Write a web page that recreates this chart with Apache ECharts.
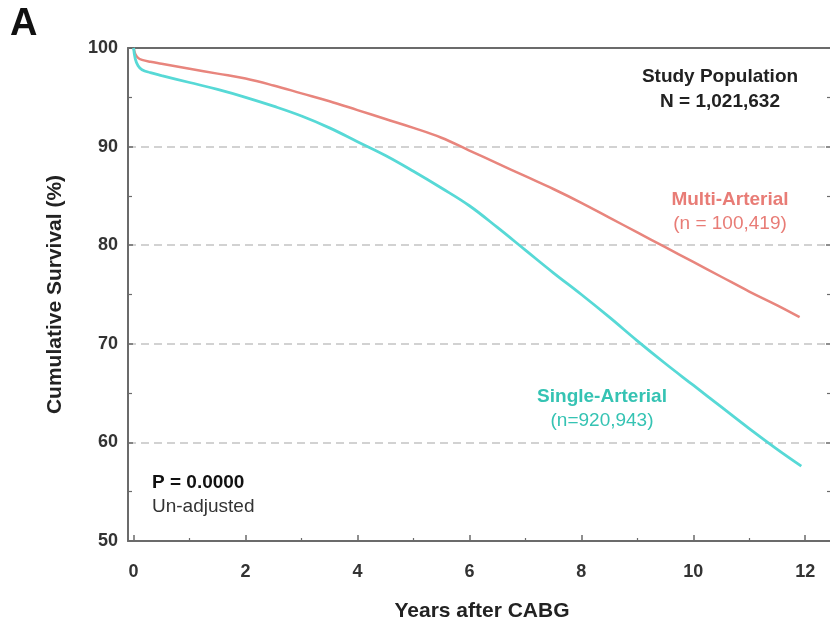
<!DOCTYPE html>
<html>
<head>
<meta charset="utf-8">
<script src="https://cdn.jsdelivr.net/npm/echarts@6/dist/echarts.min.js"></script>
<style>html,body{margin:0;padding:0;background:#fff;}#c{width:830px;height:622px;}</style>
</head>
<body>
<div id="c"></div>
<script>
const years = [0, 0.03, 0.08, 0.15, 0.3, 0.5, 1, 1.5, 2, 2.5, 3, 3.5, 4, 4.5, 5, 5.5, 6, 6.5, 7, 7.5, 8, 8.5, 9, 9.5, 10, 10.5, 11, 11.5, 11.9];
const multiArterial = [100, 99.4, 99.0, 98.8, 98.6, 98.4, 97.9, 97.4, 96.9, 96.2, 95.4, 94.6, 93.7, 92.8, 91.9, 90.9, 89.6, 88.3, 87.0, 85.7, 84.3, 82.8, 81.3, 79.8, 78.3, 76.8, 75.3, 73.9, 72.7];
const singleArterial = [100, 98.9, 98.2, 97.8, 97.5, 97.2, 96.5, 95.8, 95.0, 94.1, 93.1, 91.9, 90.5, 89.1, 87.5, 85.8, 84.0, 81.8, 79.5, 77.2, 75.0, 72.7, 70.3, 68.0, 65.8, 63.6, 61.4, 59.3, 57.6];
const xMajorTicks = [0, 2, 4, 6, 8, 10, 12];
const xMinorTicks = [1, 3, 5, 7, 9, 11];
const yTicks = [50, 60, 70, 80, 90, 100];

const FONT = "'Liberation Sans', Arial, sans-serif";
const chart = echarts.init(document.getElementById('c'), null, {renderer: 'canvas'});
const pair = (xs, ys) => xs.map((x, i) => [x, ys[i]]);
const axisColor = '#6b6b6b';

chart.setOption({
  animation: false,
  backgroundColor: '#fff',
  grid: {left: 128, right: -6, top: 48, bottom: 81, containLabel: false, outerBoundsMode: 'none'},
  xAxis: [
    {
      type: 'value', min: -0.1, max: 12.55, position: 'bottom',
      name: 'Years after CABG', nameLocation: 'middle', nameGap: 60,
      nameTextStyle: {fontFamily: FONT, fontWeight: 'bold', fontSize: 21, color: '#222'},
      axisLine: {show: true, onZero: false, lineStyle: {color: axisColor, width: 2}},
      axisTick: {show: true, inside: true, length: 6, customValues: xMajorTicks, lineStyle: {color: axisColor, width: 1.5}},
      axisLabel: {show: true, customValues: xMajorTicks, margin: 22, fontFamily: FONT, fontWeight: 'bold', fontSize: 18, color: '#333'},
      splitLine: {show: false}
    },
    {
      type: 'value', min: -0.1, max: 12.55, position: 'bottom',
      axisLine: {show: false},
      axisTick: {show: true, inside: true, length: 3, customValues: xMinorTicks, lineStyle: {color: axisColor, width: 1.2}},
      axisLabel: {show: false},
      splitLine: {show: false}
    },
    {
      type: 'value', min: -0.1, max: 12.55, position: 'top',
      axisLine: {show: true, onZero: false, lineStyle: {color: axisColor, width: 2}},
      axisTick: {show: false}, axisLabel: {show: false}, splitLine: {show: false}
    }
  ],
  yAxis: [
    {
      type: 'value', min: 50, max: 100, interval: 10, position: 'left',
      name: 'Cumulative Survival (%)', nameLocation: 'middle', nameGap: 62, nameRotate: 90,
      nameTextStyle: {fontFamily: FONT, fontWeight: 'bold', fontSize: 21, color: '#222'},
      axisLine: {show: true, onZero: false, lineStyle: {color: axisColor, width: 2}},
      axisTick: {show: true, inside: true, length: 5, lineStyle: {color: axisColor, width: 1.5}},
      minorTick: {show: true, splitNumber: 2, length: 4, lineStyle: {color: axisColor, width: 1.2}},
      axisLabel: {show: true, margin: 10, fontFamily: FONT, fontWeight: 'bold', fontSize: 18, color: '#333'},
      splitLine: {show: true, lineStyle: {color: '#c4c4c4', type: [8, 5], width: 1.5}}
    },
    {
      type: 'value', min: 50, max: 100, interval: 10, position: 'right',
      axisLine: {show: true, onZero: false, lineStyle: {color: axisColor, width: 2}},
      axisTick: {show: true, inside: true, length: 10, lineStyle: {color: axisColor, width: 1.5}},
      minorTick: {show: true, splitNumber: 2, length: 9, lineStyle: {color: axisColor, width: 1.2}},
      axisLabel: {show: false}, splitLine: {show: false}
    }
  ],
  series: [
    {
      name: 'Multi-Arterial', type: 'line', xAxisIndex: 0, yAxisIndex: 0,
      data: pair(years, multiArterial), showSymbol: false, smooth: 0.4,
      lineStyle: {color: '#e8857d', width: 2.5}, z: 3
    },
    {
      name: 'Single-Arterial', type: 'line', xAxisIndex: 0, yAxisIndex: 0,
      data: pair(years.slice(0, -1).concat([11.93]), singleArterial), showSymbol: false, smooth: 0.4,
      lineStyle: {color: '#57d9d6', width: 2.8}, z: 3
    }
  ],
  graphic: [
    {type: 'text', left: 10, top: 6, style: {text: 'A', font: "bold 38px " + FONT, fill: '#111'}},
    {type: 'text', x: 720, y: 77, style: {text: 'Study Population', font: "bold 19px " + FONT, fill: '#222', align: 'center', verticalAlign: 'middle'}},
    {type: 'text', x: 720, y: 102, style: {text: 'N = 1,021,632', font: "bold 19px " + FONT, fill: '#222', align: 'center', verticalAlign: 'middle'}},
    {type: 'text', x: 730, y: 200, style: {text: 'Multi-Arterial', font: "bold 19px " + FONT, fill: '#e87c76', align: 'center', verticalAlign: 'middle'}},
    {type: 'text', x: 730, y: 224, style: {text: '(n = 100,419)', font: "19px " + FONT, fill: '#e87c76', align: 'center', verticalAlign: 'middle'}},
    {type: 'text', x: 602, y: 397, style: {text: 'Single-Arterial', font: "bold 19px " + FONT, fill: '#35c3b3', align: 'center', verticalAlign: 'middle'}},
    {type: 'text', x: 602, y: 421, style: {text: '(n=920,943)', font: "19px " + FONT, fill: '#35c3b3', align: 'center', verticalAlign: 'middle'}},
    {type: 'text', x: 152, y: 483, style: {text: 'P = 0.0000', font: "bold 19px " + FONT, fill: '#111', align: 'left', verticalAlign: 'middle'}},
    {type: 'text', x: 152, y: 507, style: {text: 'Un-adjusted', font: "19px " + FONT, fill: '#333', align: 'left', verticalAlign: 'middle'}}
  ]
});
</script>
</body>
</html>
